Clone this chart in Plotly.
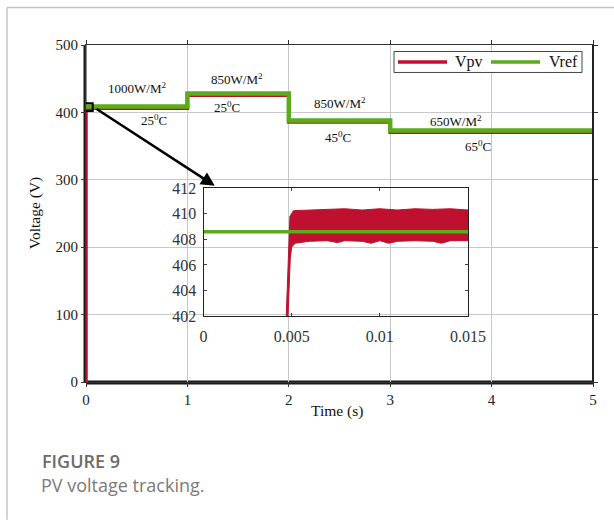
import plotly.graph_objects as go

# ---- figure geometry (pixels) ----
W, H = 614, 520
ML, MR, MT, MB = 86, 21, 44.5, 138
PW, PH = W - ML - MR, H - MT - MB


def px(xpix):
    return (xpix - ML) / PW


def py(ypix):
    return (H - MB - ypix) / PH


SERIF = "Liberation Serif"
RED = "#c0102f"
GREEN = "#5aac1a"

# ---- data ----
step_times = [0, 1, 2, 3, 5]
vref_levels = [408.6, 428.0, 388.0, 373.0]
vpv_levels = [406.2, 425.6, 385.6, 370.6]

# start-up detail of Vpv (envelope of the ripple band)
upper_t = [0.00468, 0.00480, 0.00490, 0.00510, 0.0060, 0.0070, 0.0080,
           0.0090, 0.0100, 0.0110, 0.0120, 0.0130, 0.0140, 0.0150]
upper_v = [401.5, 405.5, 409.8, 410.25, 410.3, 410.35, 410.4,
           410.3, 410.4, 410.3, 410.4, 410.35, 410.4, 410.3]
lower_t = [0.00478, 0.00492, 0.00500, 0.00520, 0.0060, 0.0070, 0.0076,
           0.0080, 0.0090, 0.0095, 0.0100, 0.0105, 0.0110, 0.0120,
           0.0130, 0.0135, 0.0140, 0.0150]
lower_v = [401.5, 406.5, 407.4, 407.7, 407.85, 407.9, 407.75,
           407.9, 407.85, 407.7, 407.9, 407.7, 407.85, 407.9,
           407.85, 407.7, 407.9, 407.9]

inset_t_range = [0, 0.015]
inset_v_range = [402, 412]
inset_tickvals = [0, 0.005, 0.01, 0.015]
inset_ticktext = ["0", "0.005", "0.01", "0.015"]

conditions = [
    ("1000W/M<sup>2</sup>", 0.50, 436),
    ("25<sup>0</sup>C", 0.67, 388),
    ("850W/M<sup>2</sup>", 1.49, 450),
    ("25<sup>0</sup>C", 1.39, 408),
    ("850W/M<sup>2</sup>", 2.50, 414),
    ("45<sup>0</sup>C", 2.49, 363),
    ("650W/M<sup>2</sup>", 3.65, 387),
    ("65<sup>0</sup>C", 3.87, 350),
]

fig = go.Figure()

# main panel: Vpv (starts from 0 at t=0) and Vref step profiles
fig.add_trace(go.Scatter(
    x=[step_times[0]] + step_times,
    y=[0] + vpv_levels + [vpv_levels[-1]],
    mode="lines", line=dict(color=RED, width=3.5, shape="hv"),
    showlegend=False, xaxis="x", yaxis="y"))
fig.add_trace(go.Scatter(
    x=step_times, y=vref_levels + [vref_levels[-1]],
    mode="lines", line=dict(color=GREEN, width=4.5, shape="hv"),
    showlegend=False, xaxis="x", yaxis="y"))

# inset: ripple band of Vpv and constant Vref
fig.add_trace(go.Scatter(
    x=upper_t + lower_t[::-1], y=upper_v + lower_v[::-1],
    mode="lines", fill="toself", fillcolor=RED,
    line=dict(color=RED, width=1), showlegend=False,
    xaxis="x2", yaxis="y2"))
fig.add_trace(go.Scatter(
    x=inset_t_range, y=[vref_levels[0], vref_levels[0]],
    mode="lines", line=dict(color=GREEN, width=3.5),
    showlegend=False, xaxis="x2", yaxis="y2"))

axis_font = dict(family=SERIF, size=15, color="#222")

fig.update_layout(
    width=W, height=H,
    margin=dict(l=ML, r=MR, t=MT, b=MB, autoexpand=False),
    paper_bgcolor="white", plot_bgcolor="rgba(0,0,0,0)",
    showlegend=False,
    xaxis=dict(domain=[0, 1], range=[0, 5], dtick=1, tick0=0,
               showgrid=True, gridcolor="#c8c8c8", gridwidth=1,
               zeroline=False, showline=True, linecolor="#333",
               linewidth=1, mirror="allticks", ticks="outside",
               ticklen=4, tickcolor="#333", tickfont=axis_font,
               automargin=False, anchor="y"),
    yaxis=dict(domain=[0, 1], range=[0, 500], dtick=100, tick0=0,
               showgrid=True, gridcolor="#c8c8c8", gridwidth=1,
               zeroline=False, showline=True, linecolor="#333",
               linewidth=1, mirror="allticks", ticks="outside",
               ticklen=4, tickcolor="#333", tickfont=axis_font,
               automargin=False, anchor="x"),
    xaxis2=dict(domain=[px(203.5), px(468)], range=inset_t_range,
                tickvals=inset_tickvals, ticktext=inset_ticktext,
                showgrid=False, zeroline=False, showline=True,
                linecolor="#222", linewidth=1, mirror="allticks",
                ticks="inside", ticklen=3, tickcolor="#444",
                ticklabelstandoff=6, automargin=False,
                tickfont=dict(family=SERIF, size=16, color="#333"),
                anchor="y2"),
    yaxis2=dict(domain=[py(316), py(188)], range=inset_v_range,
                dtick=2, tick0=402,
                showgrid=False, zeroline=False, showline=True,
                linecolor="#222", linewidth=1, mirror="allticks",
                ticks="inside", ticklen=3, tickcolor="#444",
                ticklabelstandoff=3, automargin=False,
                tickfont=dict(family=SERIF, size=16, color="#333"),
                anchor="x2"),
)

shapes = [
    # heavy left and bottom frame lines of the main panel
    dict(type="line", xref="paper", yref="paper", x0=px(85), x1=px(85),
         y0=0, y1=1, line=dict(color="#1a1a1a", width=3), layer="below"),
    dict(type="line", xref="paper", yref="paper", x0=0, x1=1,
         y0=py(382.5), y1=py(382.5), line=dict(color="#1a1a1a", width=4),
         layer="below"),
    dict(type="line", xref="paper", yref="paper", x0=1, x1=1,
         y0=0, y1=1, line=dict(color="#222", width=2)),
    # zoom window marker at start-up
    dict(type="rect", xref="x", yref="y", x0=-0.01, x1=0.066, y0=402,
         y1=413.5, line=dict(color="black", width=2)),
    # page frame
    dict(type="line", xref="paper", yref="paper", x0=px(7), x1=px(W),
         y0=py(7), y1=py(7), line=dict(color="#c4c4c4", width=1.5)),
    dict(type="line", xref="paper", yref="paper", x0=px(7), x1=px(7),
         y0=py(7), y1=py(H), line=dict(color="#c4c4c4", width=1.5)),
    # legend box and samples
    dict(type="rect", xref="paper", yref="paper", x0=px(394), x1=px(582),
         y0=py(72), y1=py(51), line=dict(color="#444", width=1),
         fillcolor="white"),
    dict(type="line", xref="paper", yref="paper", x0=px(398), x1=px(447),
         y0=py(61.5), y1=py(61.5), line=dict(color=RED, width=3.5)),
    dict(type="line", xref="paper", yref="paper", x0=px(491), x1=px(540),
         y0=py(61.5), y1=py(61.5), line=dict(color=GREEN, width=3.5)),
]
fig.update_layout(shapes=shapes)

ann = []
for text, x, y in conditions:
    ann.append(dict(text=text, x=x, y=y, xref="x", yref="y",
                    xanchor="center", yanchor="middle", showarrow=False,
                    font=dict(family=SERIF, size=13, color="#111")))

# arrow from the zoom window to the inset
ann.append(dict(text="", x=1.27, y=291, xref="x", yref="y",
                ax=0.09, ay=406.5, axref="x", ayref="y",
                showarrow=True, arrowhead=2, arrowsize=1.1,
                arrowwidth=2.5, arrowcolor="black"))

ann += [
    dict(text="Vpv", x=px(453), y=py(61.5), xref="paper", yref="paper",
         xanchor="left", yanchor="middle", showarrow=False,
         font=dict(family=SERIF, size=16, color="#111")),
    dict(text="Vref", x=px(547), y=py(61.5), xref="paper", yref="paper",
         xanchor="left", yanchor="middle", showarrow=False,
         font=dict(family=SERIF, size=16, color="#111")),
    dict(text="Voltage (V)", x=px(35), y=py(213), xref="paper",
         yref="paper", xanchor="center", yanchor="middle", textangle=-90,
         showarrow=False, font=dict(family=SERIF, size=15.5, color="#111")),
    dict(text="Time (s)", x=px(337), y=py(411), xref="paper", yref="paper",
         xanchor="center", yanchor="middle", showarrow=False,
         font=dict(family=SERIF, size=15.5, color="#111")),
    dict(text="FIGURE 9", x=px(40), y=py(461), xref="paper", yref="paper",
         xanchor="left", yanchor="middle", showarrow=False,
         font=dict(family="Open Sans", size=18, color="#6b6b6b",
                   weight=600)),
    dict(text="PV voltage tracking.", x=px(39), y=py(485), xref="paper",
         yref="paper", xanchor="left", yanchor="middle", showarrow=False,
         font=dict(family="Open Sans", size=18, color="#7a7a7a")),
]
fig.update_layout(annotations=ann)

fig.write_html("out.html")
